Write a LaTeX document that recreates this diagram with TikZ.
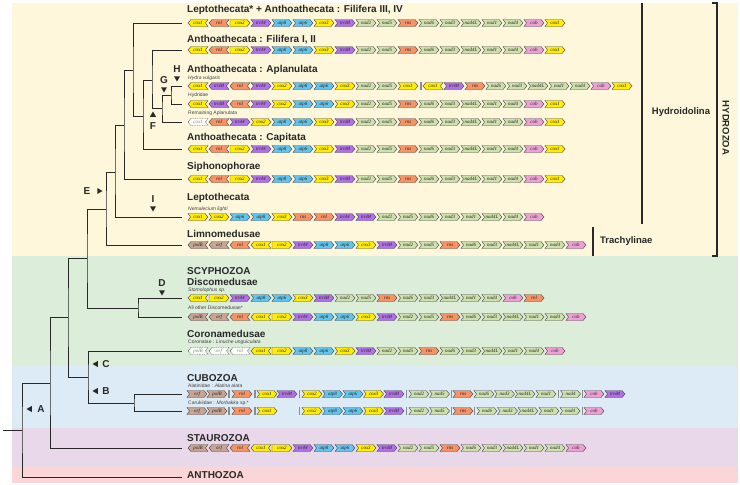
\documentclass[tikz,border=0pt]{standalone}
\usepackage{fontspec}
\setmainfont{Liberation Sans}
\newfontfamily\gfont{Liberation Serif}
\usetikzlibrary{shapes.geometric}
\definecolor{gy}{RGB}{255,236,0}
\definecolor{go}{RGB}{246,146,100}
\definecolor{gp}{RGB}{178,112,232}
\definecolor{gb}{RGB}{98,196,236}
\definecolor{gg}{RGB}{206,224,172}
\definecolor{gk}{RGB}{236,160,212}
\definecolor{gn}{RGB}{200,164,148}
\definecolor{gw}{RGB}{255,255,255}
\definecolor{bgY}{RGB}{254,247,219}
\definecolor{bgG}{RGB}{220,238,218}
\definecolor{bgB}{RGB}{221,235,247}
\definecolor{bgM}{RGB}{232,216,234}
\definecolor{bgP}{RGB}{252,214,215}
\definecolor{ink}{RGB}{40,40,40}
\tikzset{
 genebox/.style={draw=black!70,line width=0.45pt},
 genetxt/.style={font=\gfont\itshape\fontsize{5}{5}\selectfont,text=black!85,inner sep=0pt},
 gtL/.style={genetxt}, gtR/.style={genetxt}, gtF/.style={genetxt}, gtW/.style={genetxt,text=black!50},
 ttl/.style={anchor=west,inner sep=0pt,font=\bfseries\fontsize{10}{10}\selectfont,text=ink},
 sublbl/.style={anchor=west,inner sep=0pt,font=\fontsize{5}{5}\selectfont,text=black!75},
 phy/.style={draw=ink,line width=0.9pt},
 brk/.style={draw=ink,line width=1.1pt},
 sidelbl/.style={inner sep=0pt,font=\bfseries\fontsize{9.5}{9.5}\selectfont,text=ink},
 ltr/.style={inner sep=0pt,font=\bfseries\fontsize{10}{10}\selectfont,text=ink},
 tri/.style={regular polygon,regular polygon sides=3,fill=ink,inner sep=0pt,minimum size=7pt},
 sepbar/.style={draw=black!45,line width=1.1pt},
}
\newcommand\gsR[3]{\filldraw[genebox,fill=g#3] (#1,#2-3.5) -- (#1+17,#2-3.5) -- (#1+20,#2) -- (#1+17,#2+3.5) -- (#1,#2+3.5) -- (#1+2.5,#2) -- cycle;}
\newcommand\gsF[3]{\filldraw[genebox,fill=g#3] (#1,#2-3.5) -- (#1+17,#2-3.5) -- (#1+20,#2) -- (#1+17,#2+3.5) -- (#1,#2+3.5) -- cycle;}
\newcommand\gsL[3]{\filldraw[genebox,fill=g#3] (#1+20,#2-3.5) -- (#1+3,#2-3.5) -- (#1,#2) -- (#1+3,#2+3.5) -- (#1+20,#2+3.5) -- (#1+17.5,#2) -- cycle;}
\newcommand\gsW[3]{\filldraw[genebox,dash pattern=on 1pt off 0.7pt,fill=white] (#1+20,#2-3.5) -- (#1+3,#2-3.5) -- (#1,#2) -- (#1+3,#2+3.5) -- (#1+20,#2+3.5) -- (#1+17.5,#2) -- cycle;}
\newcommand\gene[6]{\csname gs#1\endcsname{#4}{#5}{#2}\node[gt#1] (#6) at (#4+10,#5) {#3};}
\newcommand\generow[4]{\foreach \d/\c/\t [count=\i from 0] in {#4}{\pgfmathsetmacro\gx{#3+21*\i}\edef\tmp{\noexpand\gene{\d}{\c}{\t}{\gx}{#2}{#1-\i}}\tmp}}
\newcommand\genelist[3]{\foreach \d/\c/\t/\x [count=\i] in {#3}{\edef\tmp{\noexpand\gene{\d}{\c}{\t}{\x}{#2}{#1-\i}}\tmp}}
\begin{document}
\begin{tikzpicture}[x=1pt,y=-1pt]
\useasboundingbox (0,0) rectangle (740,485);
\fill[white] (0,0) rectangle (740,485);
\fill[bgY] (12,3) rectangle (738,256);
\fill[bgG] (12,256) rectangle (738,366);
\fill[bgB] (12,366) rectangle (738,428);
\fill[bgM] (12,428) rectangle (738,467);
\fill[bgP] (12,467) rectangle (738,483);

% tree
\coordinate (r0) at (3,430);
\coordinate (nA) at (22,430);
\coordinate (lAnth) at (182,477);
\coordinate (nB) at (50,383);
\coordinate (lStau) at (182,448);
\coordinate (nC) at (68,317);
\coordinate (nHS) at (87,258);
\coordinate (nCC) at (88,377);
\coordinate (lCor) at (182,351);
\coordinate (nCub) at (134,403);
\coordinate (lAla) at (182,394);
\coordinate (lMor) at (182,411);
\coordinate (nHyd) at (106,209);
\coordinate (nDisc) at (138,308);
\coordinate (lSto) at (182,298);
\coordinate (lAll) at (182,317);
\coordinate (lLim) at (182,245);
\coordinate (nHdl) at (115,172);
\coordinate (lLep) at (182,217);
\coordinate (nX) at (124,125);
\coordinate (lSip) at (182,179);
\coordinate (nY) at (133,70);
\coordinate (lR1) at (182,23);
\coordinate (nZ) at (143,116);
\coordinate (nW) at (152,80);
\coordinate (lCap) at (182,149);
\coordinate (lFil) at (182,50);
\coordinate (nApl) at (162,108);
\coordinate (nHG) at (171,95);
\coordinate (lRem) at (182,122);
\coordinate (lHv) at (182,86);
\coordinate (lHyd) at (182,104);
\draw[phy] (r0) -- (nA);
\draw[phy] (nB) -| (nA) |- (lAnth);
\draw[phy] (nC) -| (nB) |- (lStau);
\draw[phy] (nHS) -| (nC) |- (nCC);
\draw[phy] (lCor) -| (nCC) |- (nCub);
\draw[phy] (lAla) -| (nCub) |- (lMor);
\draw[phy] (nHyd) -| (nHS) |- (nDisc);
\draw[phy] (lSto) -| (nDisc) |- (lAll);
\draw[phy] (nHdl) -| (nHyd) |- (lLim);
\draw[phy] (nX) -| (nHdl) |- (lLep);
\draw[phy] (nY) -| (nX) |- (lSip);
\draw[phy] (lR1) -| (nY) |- (nZ);
\draw[phy] (nW) -| (nZ) |- (lCap);
\draw[phy] (lFil) -| (nW) |- (nApl);
\draw[phy] (nHG) -| (nApl) |- (lRem);
\draw[phy] (lHv) -| (nHG) |- (lHyd);

% markers
\node[tri,shape border rotate=90] (tA) at (30,409) {};
\node[ltr] (mA) at (41,409) {A};
\node[tri,shape border rotate=90] (tB) at (96,391) {};
\node[ltr] (mB) at (106,391) {B};
\node[tri,shape border rotate=90] (tC) at (96,364) {};
\node[ltr] (mC) at (106,364) {C};
\node[ltr] (mD) at (162,283) {D};
\node[tri,shape border rotate=180] (tD) at (162,292) {};
\node[ltr] (mE) at (87,191) {E};
\node[tri,shape border rotate=270] (tE) at (99,191) {};
\node[tri] (tF) at (153,115) {};
\node[ltr] (mF) at (153,126) {F};
\node[ltr] (mG) at (164,80) {G};
\node[tri,shape border rotate=180] (tG) at (164,89) {};
\node[ltr] (mH) at (177,69) {H};
\node[tri,shape border rotate=180] (tH) at (177,78) {};
\node[ltr] (mI) at (153,199) {I};
\node[tri,shape border rotate=180] (tI) at (153,208) {};

% titles
\node[ttl] (t1) at (187,10) {Leptothecata* + Anthoathecata : Filifera III, IV};
\node[ttl] (t2) at (187,40) {Anthoathecata : Filifera I, II};
\node[ttl] (t3) at (187,70) {Anthoathecata : Aplanulata};
\node[ttl] (t4) at (187,138) {Anthoathecata : Capitata};
\node[ttl] (t5) at (187,167) {Siphonophorae};
\node[ttl] (t6) at (187,198) {Leptothecata};
\node[ttl] (t7) at (187,234) {Limnomedusae};
\node[ttl] (t8) at (187,271) {SCYPHOZOA};
\node[ttl] (t9) at (187,282) {Discomedusae};
\node[ttl] (t10) at (187,334) {Coronamedusae};
\node[ttl] (t11) at (187,378) {CUBOZOA};
\node[ttl] (t12) at (187,438) {STAUROZOA};
\node[ttl] (t13) at (187,475) {ANTHOZOA};

\node[sublbl] (s1) at (188,78) {\itshape Hydra vulgaris};
\node[sublbl] (s2) at (188,95.5) {Hydridae};
\node[sublbl] (s3) at (188,113.5) {Remaining Aplanulata};
\node[sublbl] (s4) at (188,209) {\itshape Nemalecium lighti};
\node[sublbl] (s5) at (188,290) {\itshape Stomolophus sp.};
\node[sublbl] (s6) at (188,307.5) {All other Discomedusae*};
\node[sublbl] (s7) at (188,342) {Coronatae : \textit{Linuche unguiculata}};
\node[sublbl] (s8) at (188,386) {Alatinidae : \textit{Alatina alata}};
\node[sublbl] (s9) at (188,403) {Carukiidae : \textit{Morbakka} sp.*};

% gene rows
\generow{ra}{23}{188}{L/y/cox1,L/o/rnl,F/y/cox2,R/p/trnW,R/b/atp8,R/b/atp6,R/y/cox3,R/p/trnM,R/g/nad2,R/g/nad5,R/o/rns,R/g/nad6,R/g/nad3,R/g/nad4L,R/g/nad1,R/g/nad4,R/k/cob,R/y/cox1}
\generow{rb}{50}{188}{L/y/cox1,L/o/rnl,F/y/cox2,R/p/trnW,R/b/atp8,R/b/atp6,R/y/cox3,R/p/trnM,R/g/nad2,R/g/nad5,R/o/rns,R/g/nad6,R/g/nad3,R/g/nad4L,R/g/nad1,R/g/nad4,R/k/cob,R/y/cox1}
\generow{hva}{86}{188}{L/y/cox1,L/p/trnM,L/o/rnl,R/p/trnW,R/y/cox2,R/b/atp8,R/b/atp6,R/y/cox3,R/g/nad2,R/g/nad5,R/y/cox1}
\draw[sepbar] (421,82) -- (421,90);
\generow{hvb}{86}{423}{L/y/cox1,R/p/trnM,R/o/rns,R/g/nad6,R/g/nad3,R/g/nad4L,R/g/nad1,R/g/nad4,R/k/cob,R/y/cox1}
\generow{hyd}{104}{188}{L/y/cox1,L/p/trnM,L/o/rnl,R/p/trnW,R/y/cox2,R/b/atp8,R/b/atp6,R/y/cox3,R/g/nad2,R/g/nad5,R/o/rns,R/g/nad6,R/g/nad3,R/g/nad4L,R/g/nad1,R/g/nad4,R/k/cob,R/y/cox1}
\generow{rem}{122}{188}{W/w/cox1,L/o/rnl,R/p/trnW,R/y/cox2,R/b/atp8,R/b/atp6,R/y/cox3,R/p/trnM,R/g/nad2,R/g/nad5,R/o/rns,R/g/nad6,R/g/nad3,R/g/nad4L,R/g/nad1,R/g/nad4,R/k/cob,R/y/cox1}
\generow{cap}{149}{188}{L/y/cox1,L/o/rnl,F/y/cox2,R/p/trnW,R/b/atp8,R/b/atp6,R/y/cox3,R/p/trnM,R/g/nad2,R/g/nad5,R/o/rns,R/g/nad6,R/g/nad3,R/g/nad4L,R/g/nad1,R/g/nad4,R/k/cob,R/y/cox1}
\generow{sip}{179}{188}{L/y/cox1,L/o/rnl,F/y/cox2,R/p/trnW,R/b/atp8,R/b/atp6,R/y/cox3,R/p/trnM,R/g/nad2,R/g/nad5,R/o/rns,R/g/nad6,R/g/nad3,R/g/nad4L,R/g/nad1,R/g/nad4,R/k/cob,R/y/cox1}
\generow{lep}{217}{188}{R/y/cox1,R/y/cox2,R/b/atp6,R/b/atp8,R/y/cox3,R/o/rns,R/o/rnl,R/p/trnW,R/p/trnM,R/g/nad2,R/g/nad5,R/g/nad6,R/g/nad3,R/g/nad1,R/g/nad4L,R/g/nad4,R/k/cob}
\generow{lim}{245}{188}{L/n/polB,L/n/orf,L/o/rnl,L/y/cox1,F/y/cox2,R/p/trnW,R/b/atp8,R/b/atp6,R/y/cox3,R/p/trnM,R/g/nad2,R/g/nad5,R/o/rns,R/g/nad6,R/g/nad3,R/g/nad4L,R/g/nad1,R/g/nad4,R/k/cob}
\generow{sto}{298}{188}{L/y/cox1,F/y/cox2,R/p/trnW,R/b/atp8,R/b/atp6,R/y/cox3,R/p/trnM,R/g/nad2,R/g/nad5,R/o/rns,R/g/nad6,R/g/nad3,R/g/nad4L,R/g/nad1,R/g/nad4,R/k/cob,R/o/rnl}
\generow{all}{317}{188}{L/n/polB,L/n/orf,L/o/rnl,L/y/cox1,F/y/cox2,R/p/trnW,R/b/atp8,R/b/atp6,R/y/cox3,R/p/trnM,R/g/nad2,R/g/nad5,R/o/rns,R/g/nad6,R/g/nad3,R/g/nad4L,R/g/nad1,R/g/nad4,R/k/cob}
\generow{lin}{351}{188}{W/w/polB,W/w/orf,W/w/rnl,L/y/cox1,F/y/cox2,R/b/atp8,R/b/atp6,R/y/cox3,R/p/trnM,R/g/nad2,R/g/nad5,R/o/rns,R/g/nad6,R/g/nad3,R/g/nad4L,R/g/nad1,R/g/nad4,R/k/cob}
\genelist{ala}{394}{R/n/orf/187,R/n/polB/207,R/o/rnl/232,R/y/cox1/257,R/p/trnM/277,R/y/cox2/302,R/b/atp8/322.5,R/b/atp6/343,R/y/cox3/363.5,R/p/trnM/384,R/g/nad2/409,R/g/nad5/429.5,R/o/rns/453,R/g/nad6/474,R/g/nad3/494.5,R/g/nad4L/515,R/g/nad1/536,R/g/nad4/560.5,R/k/cob/584,R/p/trnM/605}
\foreach \sx in {229,255,299.5,406.5,451.5,558.5,582.5}{\draw[sepbar] (\sx,390) -- (\sx,398);}
\genelist{mor}{411}{R/n/orf/187,R/n/polB/207,R/o/rnl/232,R/y/cox1/257,R/y/cox2/302,R/b/atp8/322.5,R/b/atp6/343,R/y/cox3/363.5,R/p/trnM/384,R/g/nad2/409,R/g/nad5/429.5,R/o/rns/453,R/g/nad6/477,R/g/nad3/497.5,R/g/nad4L/518,R/g/nad1/539,R/g/nad4/560,R/k/cob/584}
\foreach \sx in {229,255,299.5,406.5,451.5,474.5,582.5}{\draw[sepbar] (\sx,407) -- (\sx,415);}
\generow{sta}{448}{188}{L/n/polB,L/n/orf,L/o/rnl,L/y/cox1,F/y/cox2,R/p/trnW,R/b/atp8,R/b/atp6,R/y/cox3,R/p/trnM,R/g/nad2,R/g/nad5,R/o/rns,R/g/nad6,R/g/nad3,R/g/nad4L,R/g/nad1,R/g/nad4,R/k/cob}

% side brackets
\draw[brk] (642,3) -- (642,224);
\node[sidelbl] (hdl) at (681,112) {Hydroidolina};
\draw[brk] (712,3) -- (717,3) -- (717,256) -- (712,256);
\node[sidelbl,rotate=-90] (hz) at (726,128) {HYDROZOA};
\draw[brk] (593,227) -- (593,256);
\node[sidelbl,anchor=west] (tra) at (600,241) {Trachylinae};
\end{tikzpicture}
\end{document}
